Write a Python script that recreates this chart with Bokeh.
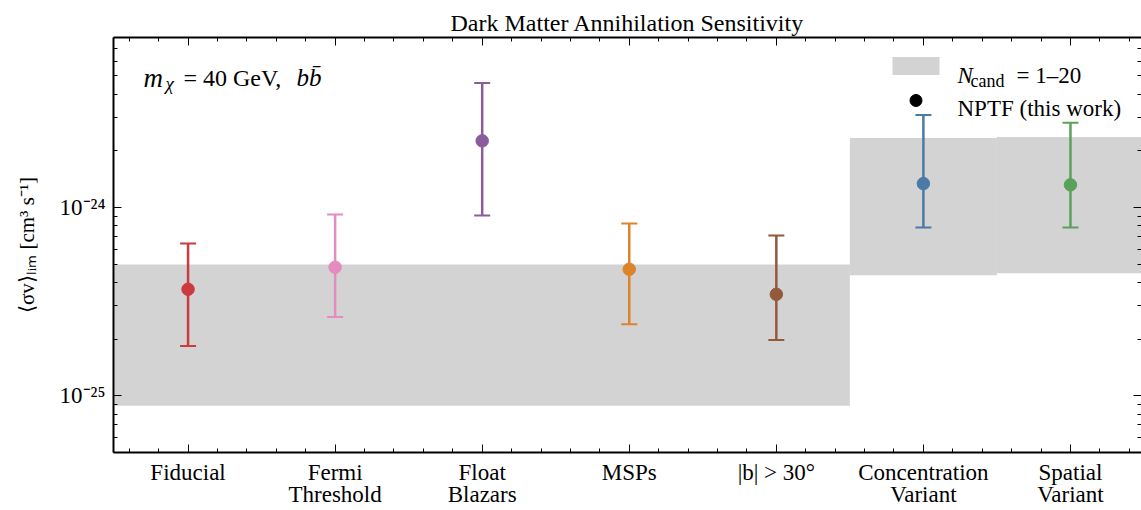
from bokeh.plotting import figure
from bokeh.models import (Range1d, FixedTicker, LinearAxis, LogAxis, Label,
                          BoxAnnotation, ColumnDataSource)
from bokeh.embed import file_html
from bokeh.resources import INLINE
import math

# ---------------- data ----------------
categories = ["Fiducial", "Fermi\nThreshold", "Float\nBlazars", "MSPs",
              "|b| > 30°", "Concentration\nVariant", "Spatial\nVariant"]
sv_best = [3.68e-25, 4.82e-25, 2.26e-24, 4.70e-25, 3.46e-25, 1.34e-24, 1.32e-24]
sv_lower = [1.84e-25, 2.62e-25, 9.07e-25, 2.40e-25, 1.98e-25, 7.84e-25, 7.84e-25]
sv_upper = [6.44e-25, 9.18e-25, 4.58e-24, 8.23e-25, 7.11e-25, 3.10e-24, 2.82e-24]
point_colors = ["#cc3a3f", "#e48cbf", "#8b5c9c", "#dd8329", "#93593b", "#4a7ba7", "#5aa25a"]

band_first_cat = [0, 5, 6]
band_last_cat = [4, 5, 6]
band_low = [8.85e-26, 4.37e-25, 4.48e-25]
band_high = [4.99e-25, 2.34e-24, 2.37e-24]

y_major = [1e-25, 1e-24]
y_major_labels = ["10⁻²⁵", "10⁻²⁴"]

title_text = "Dark Matter Annihilation Sensitivity"
ylabel_text = "⟨σv⟩ₗᵢₘ [cm³ s⁻¹]"

# ---------------- layout ----------------
FONT = "Liberation Serif"
W, H = 1141, 510
BL, BR, BT, BB = 113, 0, 37, 58
X0, X1 = -0.507, 6.483
Y0, Y1 = 5.0e-26, 8.0e-24

# page-pixel -> data helpers (for legend / annotation placement only)
FL, FR, FT, FB = BL, W - BR, BT, H - BB
def dx(px):
    return X0 + (px - FL) / (FR - FL) * (X1 - X0)
def dy(py):
    lt, lb = math.log10(Y1), math.log10(Y0)
    return 10 ** (lt - (py - FT) / (FB - FT) * (lt - lb))

p = figure(width=W, height=H, output_backend="svg", toolbar_location=None,
           x_range=Range1d(X0, X1), y_range=Range1d(Y0, Y1), y_axis_type="log",
           min_border_left=BL, min_border_right=BR, min_border_top=BT,
           min_border_bottom=BB, title=title_text)
p.background_fill_color = "white"
p.border_fill_color = "white"
p.xgrid.visible = False
p.ygrid.visible = False
p.outline_line_color = None

p.title.align = "center"
p.title.text_font = FONT
p.title.text_font_style = "normal"
p.title.text_font_size = "24px"
p.title.text_color = "black"
p.title.standoff = 4

x_minor = [round(-0.4 + 0.2 * k, 1) for k in range(35)]
y_minor = [k * 10.0 ** e for e in (-26, -25, -24) for k in range(2, 10)]

def style_axis(ax):
    ax.axis_line_color = "black"
    ax.axis_line_width = 2
    ax.major_tick_line_color = "black"
    ax.minor_tick_line_color = "black"
    ax.major_tick_line_width = 1
    ax.minor_tick_line_width = 1
    ax.major_tick_in = 8
    ax.major_tick_out = 0
    ax.minor_tick_in = 4
    ax.minor_tick_out = 0
    ax.major_label_text_font = FONT
    ax.major_label_text_font_size = "23px"
    ax.major_label_text_color = "black"

# bottom axis
xa = p.xaxis[0]
xa.ticker = FixedTicker(ticks=list(range(len(categories))), minor_ticks=x_minor)
xa.major_label_overrides = {i: c for i, c in enumerate(categories)}
style_axis(xa)
xa.major_label_standoff = 7
xa.major_label_text_line_height = 0.9

# left axis
ya = p.yaxis[0]
ya.ticker = FixedTicker(ticks=y_major, minor_ticks=y_minor)
ya.major_label_overrides = {v: s for v, s in zip(y_major, y_major_labels)}
style_axis(ya)
ya.major_label_standoff = 8
ya.axis_label = ylabel_text
ya.axis_label_text_font = FONT
ya.axis_label_text_font_style = "normal"
ya.axis_label_text_font_size = "21px"
ya.axis_label_text_color = "black"
ya.axis_label_standoff = 18

# top axis
ta = LinearAxis(ticker=FixedTicker(ticks=list(range(len(categories))), minor_ticks=x_minor),
                major_label_overrides={i: "" for i in range(len(categories))})
style_axis(ta)
ta.major_label_standoff = 0
p.add_layout(ta, "above")

# right axis (frame edge lies just beyond the page, as in the reference)
ra = LogAxis(ticker=FixedTicker(ticks=y_major, minor_ticks=y_minor),
             major_label_overrides={v: "" for v in y_major})
style_axis(ra)
ra.axis_line_color = None
ra.major_label_standoff = 0
p.add_layout(ra, "right")

# ---------------- marks ----------------
p.quad(left=[c - 0.5 for c in band_first_cat], right=[c + 0.5 for c in band_last_cat],
       bottom=band_low, top=band_high, fill_color="#d3d3d3", line_color=None)

src = ColumnDataSource(dict(x=list(range(len(categories))), best=sv_best,
                            lo=sv_lower, hi=sv_upper, color=point_colors))
p.segment(x0="x", y0="lo", x1="x", y1="hi", source=src, line_color="color", line_width=2.5)
p.scatter("x", "lo", marker="dash", size=16, line_color="color", line_width=2, source=src)
p.scatter("x", "hi", marker="dash", size=16, line_color="color", line_width=2, source=src)
p.scatter("x", "best", marker="circle", size=12.5, fill_color="color", line_color="color",
          source=src)

# ---------------- legend (manual) ----------------
p.add_layout(BoxAnnotation(left=dx(892), right=dx(939), bottom=dy(74.5), top=dy(56.5),
                           fill_color="#d3d3d3", fill_alpha=1.0, line_color=None))
p.scatter(x=[dx(915.5)], y=[dy(100)], marker="circle", size=12, color="black")

def lab(px, py, text, size="23px", style="normal"):
    p.add_layout(Label(x=dx(px), y=dy(py), text=text, text_font=FONT,
                       text_font_size=size, text_font_style=style, text_color="black",
                       text_align="left", text_baseline="alphabetic"))

lab(957, 75, "N", style="italic")
lab(970, 80, "cand", size="18px")
lab(1016, 75, "= 1–20")
lab(957, 108, "NPTF (this work)")

# annotation m_chi = 40 GeV, b bbar
lab(143, 77, "m", size="27px", style="italic")
lab(165, 83, "χ", size="19px", style="italic")
lab(183, 77, "= 40 GeV,", size="24px")
lab(296, 77, "bb̄", size="25px", style="italic")

open("out.html", "w").write(file_html(p, INLINE))
